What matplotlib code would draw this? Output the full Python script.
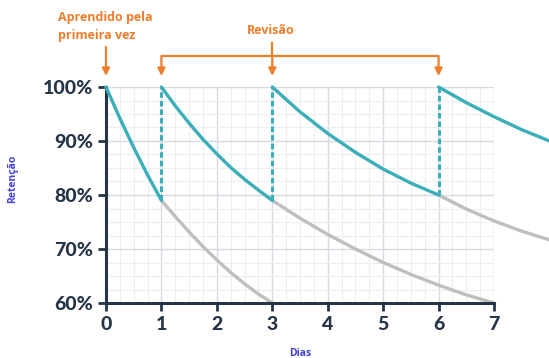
import matplotlib
matplotlib.use('Agg')
import matplotlib.pyplot as plt
import matplotlib.transforms as mtransforms
from matplotlib.ticker import MultipleLocator, FuncFormatter

# Curves (day, retention %)
teal1_x = [0, 0.25, 0.5, 0.75, 1]
teal1_y = [100, 94.2, 88.8, 83.7, 79]
gray1_x = [1, 1.25, 1.5, 1.75, 2, 2.25, 2.5, 2.75, 3]
gray1_y = [79, 76.0, 73.15, 70.45, 67.95, 65.65, 63.55, 61.65, 60]

teal2_x = [1, 1.25, 1.5, 1.75, 2, 2.25, 2.5, 2.75, 3]
teal2_y = [100, 96.5, 93.3, 90.3, 87.6, 85.1, 82.9, 80.9, 79]
gray2_x = [3, 3.5, 4, 4.5, 5, 5.5, 6, 6.5, 7]
gray2_y = [79, 75.7, 72.7, 70.0, 67.5, 65.3, 63.3, 61.5, 60]

teal3_x = [3, 3.5, 4, 4.5, 5, 5.5, 6]
teal3_y = [100, 95.4, 91.4, 87.9, 84.8, 82.2, 80]
gray3_x = [6, 6.5, 7, 7.5, 8]
gray3_y = [80, 77.4, 75.2, 73.3, 71.7]

teal4_x = [6, 6.5, 7, 7.5, 8]
teal4_y = [100, 97.1, 94.5, 92.1, 90]

review_days = [1, 3, 6]
review_low = [79, 79, 80]

x_ticks = [0, 1, 2, 3, 4, 5, 6, 7]
y_ticks = [60, 70, 80, 90, 100]

TEAL = '#3aafb9'
GRAY = '#bfbfbf'
NAVY = '#253447'
ORANGE = '#f07d2c'
BLUE = '#4343dc'

W, H = 549, 358
fig = plt.figure(figsize=(W / 100, H / 100), dpi=100)
ax = fig.add_axes([106 / W, 55 / H, 388 / W, 216 / H])

def fy(p):
    return 1 - p / H

# grid
ax.set_xlim(0, 7)
ax.set_ylim(60, 100)
ax.xaxis.set_major_locator(MultipleLocator(1))
ax.xaxis.set_minor_locator(MultipleLocator(0.25))
ax.yaxis.set_major_locator(MultipleLocator(10))
ax.yaxis.set_minor_locator(MultipleLocator(2.5))
ax.grid(which='major', color='#d6dae1', lw=1.0, zorder=0)
ax.grid(which='minor', color='#eceef2', lw=0.8, zorder=0)
ax.set_axisbelow(True)

for s in ['top', 'right']:
    ax.spines[s].set_visible(False)
for s in ['left', 'bottom']:
    ax.spines[s].set_color(NAVY)
    ax.spines[s].set_linewidth(2.2)

ax.tick_params(which='major', length=6, width=2, color=NAVY, direction='out', pad=3)
ax.tick_params(which='minor', length=0)
ax.set_xticks(x_ticks)
ax.set_yticks(y_ticks)
ax.yaxis.set_major_formatter(FuncFormatter(lambda v, p: f'{int(v)}%'))
for lab in ax.get_xticklabels() + ax.get_yticklabels():
    lab.set_fontfamily('Lato')
    lab.set_fontweight('black')
    lab.set_fontsize(14)
    lab.set_color(NAVY)

lw = 2.4
# gray forgetting tails
for xs, ys in [(gray1_x, gray1_y), (gray2_x, gray2_y), (gray3_x, gray3_y)]:
    ax.plot(xs, ys, color=GRAY, lw=lw, clip_on=False, zorder=2, solid_capstyle='butt',
            solid_joinstyle='round')
# teal curves
for xs, ys in [(teal1_x, teal1_y), (teal2_x, teal2_y), (teal3_x, teal3_y), (teal4_x, teal4_y)]:
    ax.plot(xs, ys, color=TEAL, lw=lw, clip_on=False, zorder=3, solid_capstyle='round',
            solid_joinstyle='round')
# dashed jumps at reviews
for d, lo in zip(review_days, review_low):
    ax.plot([d, d], [lo, 100], color=TEAL, lw=2.2, ls=(0, (1.8, 1.0)), zorder=3, clip_on=False)

ax.set_ylabel('Retenção', color=BLUE, fontsize=7.5, fontweight='bold', family='Open Sans')
ax.yaxis.set_label_coords(18 / W, 0.5, transform=fig.transFigure)
fig.text(300 / W, fy(348), 'Dias', color=BLUE, fontsize=7.5, fontweight='bold',
         family='Open Sans', ha='center', va='top')

# annotations
trans = mtransforms.blended_transform_factory(ax.transData, fig.transFigure)
aprops = dict(arrowstyle='-|>', color=ORANGE, lw=1.6, mutation_scale=11, shrinkA=0, shrinkB=0)
ax.annotate('', xy=(0, fy(76)), xytext=(0, fy(47)), xycoords=trans, textcoords=trans,
            arrowprops=aprops, annotation_clip=False)
for d in review_days:
    ax.annotate('', xy=(d, fy(76)), xytext=(d, fy(56)), xycoords=trans, textcoords=trans,
                arrowprops=aprops, annotation_clip=False)
ax.plot([review_days[0], review_days[-1]], [fy(56), fy(56)], color=ORANGE, lw=1.6,
        transform=trans, clip_on=False, solid_capstyle='butt')
ax.plot([3, 3], [fy(56), fy(43)], color=ORANGE, lw=1.6, transform=trans, clip_on=False)

fig.text(58 / W, fy(11), 'Aprendido pela\nprimeira vez', color=ORANGE, fontsize=9,
         fontweight='bold', family='Open Sans', ha='left', va='top', linespacing=1.45)
fig.text(271 / W, fy(31), 'Revisão', color=ORANGE, fontsize=9, fontweight='bold',
         family='Open Sans', ha='center', va='center')

fig.savefig('out.png', dpi=100)
